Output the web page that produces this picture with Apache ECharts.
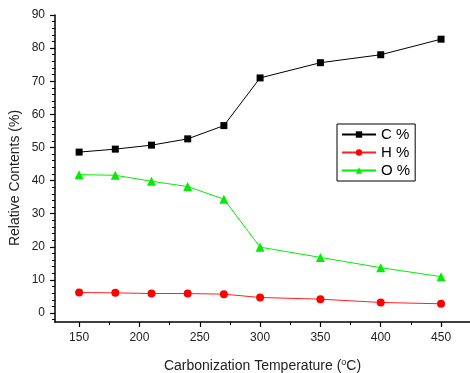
<!DOCTYPE html>
<html>
<head>
<meta charset="utf-8">
<script src="https://cdn.jsdelivr.net/npm/echarts@6/dist/echarts.min.js"></script>
<style>
  html, body { margin: 0; padding: 0; background: #fff; }
  #chart { width: 470px; height: 373px; }
</style>
</head>
<body>
<div id="chart"></div>
<script>
const temps = [150, 180, 210, 240, 270, 300, 350, 400, 450];
const carbon = [48.6, 49.5, 50.7, 52.6, 56.6, 71.0, 75.6, 78.0, 82.7];
const hydrogen = [6.2, 6.1, 5.9, 5.9, 5.7, 4.7, 4.2, 3.2, 2.8];
const oxygen = [41.8, 41.6, 39.8, 38.2, 34.4, 19.9, 16.8, 13.7, 11.0];

const xMajor = [150, 200, 250, 300, 350, 400, 450];
const xMinor = [175, 225, 275, 325, 375, 425];
const yMajor = [0, 10, 20, 30, 40, 50, 60, 70, 80, 90];
const yMinor = [];
for (let v = -2; v < 90; v += 2) if (v % 10 !== 0) yMinor.push(v);

const font = 'Arial, "Liberation Sans", sans-serif';
const pair = (xs, ys) => xs.map((x, i) => [x, ys[i]]);

const xBase = {
    type: 'value', min: 130, max: 474,
    splitLine: { show: false },
    axisLine: { onZero: false, lineStyle: { color: '#000', width: 1.5 } },
};
const yBase = {
    type: 'value', min: -2.7, max: 90,
    splitLine: { show: false },
    axisLine: { show: true, onZero: false, lineStyle: { color: '#000', width: 1.5 } },
};

const chart = echarts.init(document.getElementById('chart'));
chart.setOption({
    animation: false,
    textStyle: { fontFamily: font },
    grid: { left: 55, right: 0, top: 15, bottom: 51, outerBoundsMode: 'none', containLabel: false },
    xAxis: [
        {
            ...xBase,
            axisTick: { customValues: xMajor, length: 5, lineStyle: { color: '#000', width: 1.2 } },
            axisLabel: { customValues: xMajor, color: '#222', fontSize: 12, margin: 10 },
            name: '{a|Carbonization Temperature (}{s|o}{a|C)}',
            nameLocation: 'middle',
            nameGap: 36,
            nameTextStyle: {
                rich: {
                    a: { fontSize: 14, color: '#222', fontFamily: font },
                    s: { fontSize: 9, color: '#222', fontFamily: font, verticalAlign: 'top', padding: [0, 0, 7, 0] },
                },
            },
        },
        {
            ...xBase, position: 'bottom',
            axisLine: { show: false, onZero: false },
            axisTick: { customValues: xMinor, length: 3, lineStyle: { color: '#000', width: 1 } },
            axisLabel: { show: false },
        },
    ],
    yAxis: [
        {
            ...yBase,
            axisTick: { customValues: yMajor, length: 5, lineStyle: { color: '#000', width: 1.2 } },
            axisLabel: { customValues: yMajor, color: '#222', fontSize: 12, margin: 10 },
        },
        {
            ...yBase, position: 'left',
            axisLine: { show: false, onZero: false },
            axisTick: { customValues: yMinor, length: 3, lineStyle: { color: '#000', width: 1 } },
            axisLabel: { show: false },
        },
    ],
    graphic: [{
        type: 'text', x: 15, y: 178, rotation: Math.PI / 2,
        style: {
            text: 'Relative Contents (%)', fill: '#222', fontSize: 14, fontFamily: font,
            align: 'center', verticalAlign: 'middle',
        },
    }],
    legend: {
        orient: 'vertical', left: 337, top: 124,
        borderColor: '#000', borderWidth: 1, borderRadius: 0,
        padding: [3, 5, 3, 4],
        itemWidth: 34, itemHeight: 8, itemGap: 3,
        textStyle: { fontSize: 15, color: '#000', fontFamily: font },
        data: ['C %', 'H %', 'O %'],
    },
    series: [
        {
            name: 'C %', type: 'line', data: pair(temps, carbon),
            symbol: 'rect', symbolSize: 7,
            itemStyle: { color: '#000' }, lineStyle: { color: '#000', width: 1 },
        },
        {
            name: 'H %', type: 'line', data: pair(temps, hydrogen),
            symbol: 'circle', symbolSize: 8,
            itemStyle: { color: '#ff0000' }, lineStyle: { color: '#ff2020', width: 1 },
        },
        {
            name: 'O %', type: 'line', data: pair(temps, oxygen),
            symbol: 'triangle', symbolSize: 9,
            itemStyle: { color: '#00ee00' }, lineStyle: { color: '#00ee00', width: 1 },
        },
    ],
});
</script>
</body>
</html>
